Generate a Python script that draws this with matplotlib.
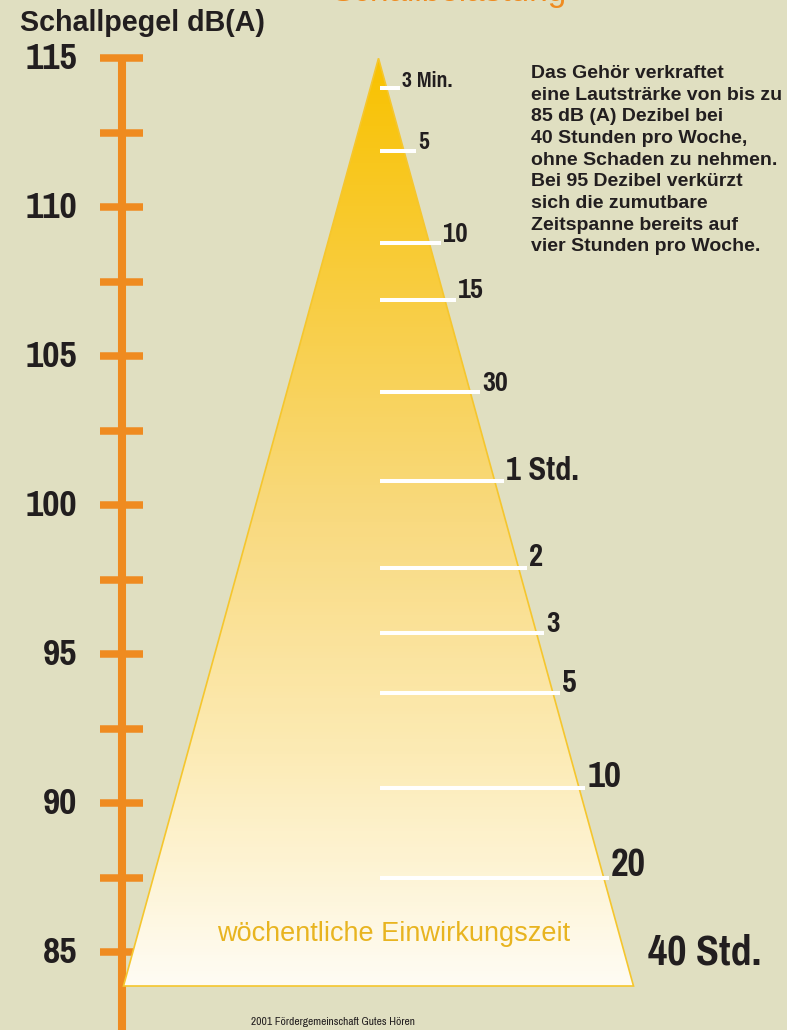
import numpy as np
import matplotlib
matplotlib.use('Agg')
from matplotlib import pyplot as plt
from matplotlib.patches import Polygon
from matplotlib.colors import LinearSegmentedColormap

# Skala Schallpegel dB(A)
scale_ticks = np.arange(85, 115.1, 2.5)
scale_levels = [85, 90, 95, 100, 105, 110, 115]
scale_labels = ['85', '90', '95', '100', '105', '110', '115']

# zumutbare Einwirkungszeit pro Woche je Pegel
time_levels = [114.0, 111.9, 108.8, 106.9, 103.8, 100.8, 97.9, 95.7, 93.7, 90.5, 87.5, 85.0]
time_labels = ['3 Min.', '5', '10', '15', '30', '1 Std.', '2', '3', '5', '10', '20', '40 Std.']
label_sizes = [17, 18.5, 21, 22, 22, 25.5, 24, 23, 25, 29, 30, 33]

info_text = ("Das Gehör verkraftet\n"
             "eine Lautsträrke von bis zu\n"
             "85 dB (A) Dezibel bei\n"
             "40 Stunden pro Woche,\n"
             "ohne Schaden zu nehmen.\n"
             "Bei 95 Dezibel verkürzt\n"
             "sich die zumutbare\n"
             "Zeitspanne bereits auf\n"
             "vier Stunden pro Woche.")

bg = '#E0DFC1'
orange = '#EF8B20'
dark = '#221E1F'
narrow = ['Pragati Narrow', 'PT Sans Narrow', 'Barlow Condensed', 'DejaVu Sans']
wide = ['Liberation Sans', 'DejaVu Sans']

W, H = 787, 1030
PX_DB = 29.8          # Pixel pro dB
Y115 = 58.3           # Pixelzeile von 115 dB


def db(ypx):
    return 115 - (ypx - Y115) / PX_DB


fig = plt.figure(figsize=(W / 100, H / 100), dpi=100, facecolor=bg)
ax = fig.add_axes([0, 0, 1, 1])
ax.set_facecolor(bg)
ax.set_xlim(0, W)
ax.set_ylim(db(H), db(0))
ax.axis('off')

# Skala links
ax.vlines(122, db(H), 115, color=orange, lw=5.8)
ax.hlines(scale_ticks, 100, 143, color=orange, lw=5.4)
for lev, lab in zip(scale_levels, scale_labels):
    ax.text(77, lev, lab, ha='right', va='center', fontsize=29.5,
            fontweight='bold', color=dark, family=narrow)

# Dreieck mit Farbverlauf
apex_x = 378.5
half_w = 255
base = db(986)
tri = Polygon([[apex_x, 115], [apex_x + half_w, base], [apex_x - half_w, base]],
              closed=True, facecolor='none', edgecolor='#F5C62E', lw=1.2, zorder=3)
ax.add_patch(tri)
cmap = LinearSegmentedColormap.from_list(
    'verlauf', [(0, '#F8C200'), (0.25, '#F8CD40'), (0.5, '#F9DA80'),
                (0.75, '#FCEBB5'), (1, '#FFFCF3')])
grad = np.linspace(0, 1, 300).reshape(-1, 1)
im = ax.imshow(grad, cmap=cmap, aspect='auto', zorder=2,
               extent=[apex_x - half_w, apex_x + half_w, base, 115])
im.set_clip_path(tri)


def edge(lev):
    return apex_x + (115 - lev) / (115 - base) * half_w


# weiße Markierungen und Zeiten
for lev, lab, fs in zip(time_levels, time_labels, label_sizes):
    if lab == '40 Std.':
        ax.text(edge(lev) + 24, lev, lab, ha='left', va='center', fontsize=fs,
                fontweight='bold', color=dark, family=narrow, zorder=5)
        continue
    x_end = edge(lev) + 9 + (lev - 100) * 0.3
    ax.hlines(lev, 380, x_end, color='white', lw=2.9, zorder=4)
    ax.text(x_end + 2, lev + 0.05, lab, ha='left', va='baseline', fontsize=fs,
            fontweight='bold', color=dark, family=narrow, zorder=5)

ax.text(394, db(934), 'wöchentliche Einwirkungszeit', ha='center', va='center',
        fontsize=19.5, color='#E8B420', family=wide, zorder=5)

# Texte
fig.text(449 / W, 1 - 1 / H, 'Schallbelastung', ha='center', va='baseline',
         fontsize=24, color=orange, family=wide)
fig.text(20 / W, 1 - 23 / H, 'Schallpegel dB(A)', ha='left', va='center',
         fontsize=20.6, fontweight='bold', color=dark, family=wide)
fig.text(531 / W, 1 - 65 / H, info_text, ha='left', va='top', fontsize=14,
         fontweight='bold', color=dark, family=wide, linespacing=1.36)
fig.text(333 / W, 1 - 1022 / H, '2001 Fördergemeinschaft Gutes Hören',
         ha='center', va='center', fontsize=9, color=dark, family=narrow)

fig.savefig('out.png', dpi=100, facecolor=bg)
